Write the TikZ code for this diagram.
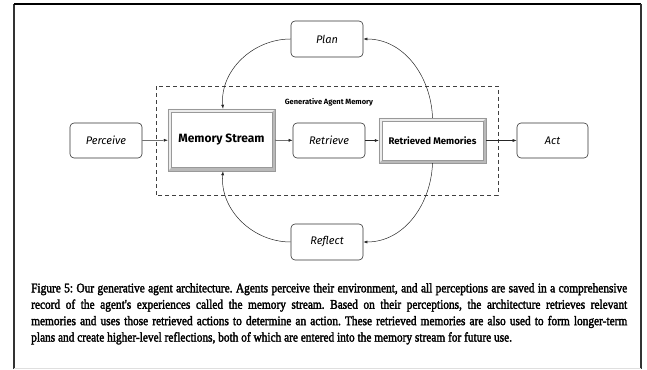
\documentclass[tikz,border=0pt]{standalone}
\usepackage{fontspec}
\setmainfont{Liberation Serif}
\setsansfont{Fira Sans}
\newfontfamily\capfont[FakeStretch=0.86,FakeBold=2.2]{Liberation Serif}
\usetikzlibrary{arrows.meta,backgrounds,calc}
\def\bevel#1#2{%
  \fill[gray!55] (#1.south west) rectangle (#1.north east);
  \fill[gray!15] (#1.south west) -- (#1.north west) -- (#1.north east)
    -- ($(#1.north east)+(-#2,-#2)$) -- ($(#1.north west)+(#2,-#2)$)
    -- ($(#1.south west)+(#2,#2)$) -- cycle;
  \draw[gray!80,line width=0.4pt] (#1.south west) rectangle (#1.north east);
  \draw[gray!80,line width=0.4pt,fill=white] ($(#1.south west)+(#2,#2)$) rectangle ($(#1.north east)+(-#2,-#2)$);
}
\tikzset{
  step box/.style={draw=black!80, line width=0.6pt, rounded corners=4pt,
    minimum width=72pt, minimum height=35pt, inner sep=0pt,
    font=\sffamily\itshape\fontsize{11}{13}\selectfont},
  store box/.style={inner sep=0pt, font=\sffamily\bfseries},
  flow/.style={-{Latex[length=4pt,width=3pt]}, line width=0.5pt, black!85},
}

\begin{document}
\begin{tikzpicture}[x=1pt,y=1pt]
  \useasboundingbox (0,0) rectangle (647,369);
  % frame
  \draw[black!80, line width=1.6pt] (14,0) -- (14,365);
  \draw[black, line width=1.2pt] (14,365) -- (641,365);
  \draw[black!80, line width=1.6pt] (641,365) -- (641,0);
  \draw[gray!25, line width=0.8pt] (14,1) -- (641,1);

  %%%%% memory box %%%%%
  \draw[dashed, dash pattern=on 4pt off 3pt, line width=0.8pt, black!75] (156,174) rectangle (498,283);
  \node[font=\sffamily\bfseries\fontsize{7.5}{9}\selectfont] (gamlabel) at (329,267) {Generative Agent Memory};

  \node[step box] (perceive) at (106,228.5) {Perceive};
  \node[store box, minimum width=107pt, minimum height=62pt, font=\sffamily\bfseries\fontsize{12}{14}\selectfont] (memstream) at (221.5,229) {Memory Stream};
  \node[step box] (retrieve) at (329,228.5) {Retrieve};
  \node[store box, minimum width=107pt, minimum height=45pt, font=\sffamily\bfseries\fontsize{9.6}{11}\selectfont] (retmem) at (432.5,228.5) {Retrieved Memories};
  \node[step box, minimum width=71pt] (act) at (552.5,228.5) {Act};
  \node[step box, minimum height=36pt] (plan) at (327,330) {Plan};
  \node[step box, minimum height=36pt] (reflect) at (327,127) {Reflect};

  \begin{pgfonlayer}{background}
    \bevel{memstream}{3.5}
    \bevel{retmem}{3}
  \end{pgfonlayer}

  \draw[flow] (perceive) -- (memstream);
  \draw[flow] (memstream) -- (retrieve);
  \draw[flow] (retrieve) -- (retmem);
  \draw[flow] (retmem) -- (act);

  \draw[flow] (plan.west) to[out=180,in=95] ([xshift=1.5pt]memstream.north);
  \draw[flow] (retmem.north) to[out=92,in=0] (plan.east);
  \draw[flow] (retmem.south) to[out=-92,in=0] (reflect.east);
  \draw[flow] (reflect.west) to[out=180,in=-95] ([xshift=1.5pt]memstream.south);

  %%%%% caption %%%%%
  \node[anchor=north west, inner sep=0pt, text width=596pt, align=justify,
    font=\capfont\fontsize{13.2}{16.4}\selectfont\frenchspacing] (caption) at (31,86)
  {Figure 5: Our generative agent architecture. Agents perceive their environment, and all perceptions are saved in a comprehensive\linebreak
   record of the agent's experiences called the memory stream. Based on their perceptions, the architecture retrieves relevant\linebreak
   memories and uses those retrieved actions to determine an action. These retrieved memories are also used to form longer-term\linebreak
   plans and create higher-level reflections, both of which are entered into the memory stream for future use.};
\end{tikzpicture}
\end{document}
